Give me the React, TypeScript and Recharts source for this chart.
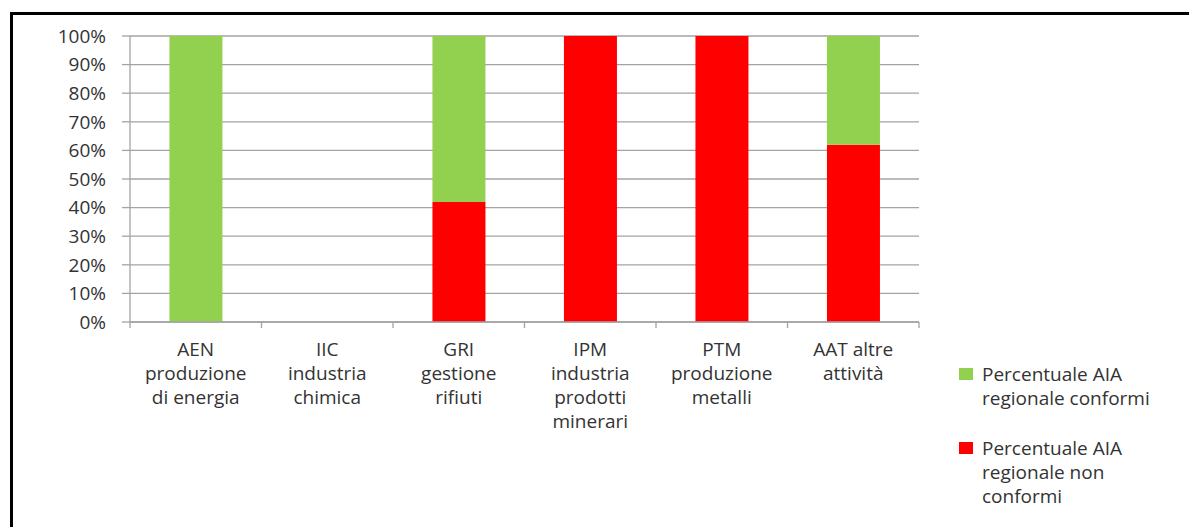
import { BarChart, Bar, XAxis, YAxis, CartesianGrid } from "recharts"

// categories (one entry per line of the axis label)
const categoryLines = [
  ["AEN", "produzione", "di energia"],
  ["IIC", "industria", "chimica"],
  ["GRI", "gestione", "rifiuti"],
  ["IPM", "industria", "prodotti", "minerari"],
  ["PTM", "produzione", "metalli"],
  ["AAT altre", "attività"],
]
const categories = categoryLines.map((l) => l.join(" "))

// percentages per category
const conformi = [100, 0, 58, 0, 0, 38]
const nonConformi = [0, 0, 42, 100, 100, 62]

const yTicks = [0, 10, 20, 30, 40, 50, 60, 70, 80, 90, 100]

const legendConformi = ["Percentuale AIA", "regionale conformi"]
const legendNonConformi = ["Percentuale AIA", "regionale non", "conformi"]

const data = categories.map((name, i) => ({
  name,
  conformi: conformi[i],
  nonConformi: nonConformi[i],
}))

const GREEN = "#92D050"
const RED = "#FF0000"
const GRID = "#a3a3a3"
const TEXT = "#333333"
const FONT = "'Open Sans', sans-serif"
const FS = 19

// label under each category plus the small tick marks on the band edges
function CategoryTick({ x, y, payload, width, visibleTicksCount }: any) {
  const lines = categoryLines[payload.index] ?? [String(payload.value)]
  const half = payload.offset || width / visibleTicksCount / 2
  const isLast = payload.index === visibleTicksCount - 1
  return (
    <g>
      <line x1={x - half} x2={x - half} y1={y} y2={y + 6} stroke={GRID} strokeWidth={1.3} />
      {isLast && <line x1={x + half} x2={x + half} y1={y} y2={y + 6} stroke={GRID} strokeWidth={1.3} />}
      <text x={x} y={y + 34} textAnchor="middle" fill={TEXT} fontSize={FS} fontFamily={FONT}>
        {lines.map((l, i) => (
          <tspan key={i} x={x} dy={i === 0 ? 0 : 24}>{l}</tspan>
        ))}
      </text>
    </g>
  )
}

function ChartLegend() {
  const items = [
    { color: GREEN, lines: legendConformi },
    { color: RED, lines: legendNonConformi },
  ]
  return (
    <div style={{ position: "absolute", left: 959, top: 362, width: 228, fontFamily: FONT, fontSize: FS, color: TEXT, lineHeight: "24px" }}>
      {items.map((it, i) => (
        <div key={i} style={{ display: "flex", alignItems: "flex-start", marginBottom: i === 0 ? 26 : 0 }}>
          <span style={{ width: 14, height: 12, background: it.color, marginTop: 6, marginRight: 9, flexShrink: 0 }} />
          <div style={{ whiteSpace: "nowrap" }}>
            {it.lines.map((l, j) => <div key={j}>{l}</div>)}
          </div>
        </div>
      ))}
    </div>
  )
}

export default function App() {
  return (
    <div style={{ position: "absolute", left: 0, top: 0, width: 1189, height: 527, background: "#fff", overflow: "hidden" }}>
      <div style={{ position: "absolute", left: 10, top: 12, width: 1200, height: 540, borderLeft: "3px solid #000", borderTop: "3px solid #000" }} />
      <BarChart
        width={1189}
        height={527}
        data={data}
        margin={{ top: 36, right: 270, left: 0, bottom: 0 }}
        barCategoryGap="30%"
        style={{ position: "absolute", left: 0, top: 0, fontFamily: FONT }}
      >
        <CartesianGrid horizontal vertical={false} stroke={GRID} strokeWidth={1.3} />
        <XAxis
          dataKey="name"
          interval={0}
          height={205}
          axisLine={{ stroke: GRID, strokeWidth: 1.3 }}
          tickLine={false}
          tickSize={0}
          tickMargin={0}
          tick={<CategoryTick />}
        />
        <YAxis
          width={130}
          domain={[0, 100]}
          ticks={yTicks}
          interval={0}
          tickFormatter={(v) => `${v}%`}
          tickSize={8}
          tickMargin={16}
          axisLine={{ stroke: GRID, strokeWidth: 1.3 }}
          tickLine={{ stroke: GRID, strokeWidth: 1.3 }}
          tick={{ fill: TEXT, fontSize: FS, fontFamily: FONT }}
        />
        <Bar dataKey="nonConformi" stackId="a" fill={RED} isAnimationActive={false} />
        <Bar dataKey="conformi" stackId="a" fill={GREEN} isAnimationActive={false} />
      </BarChart>
      <ChartLegend />
    </div>
  )
}
